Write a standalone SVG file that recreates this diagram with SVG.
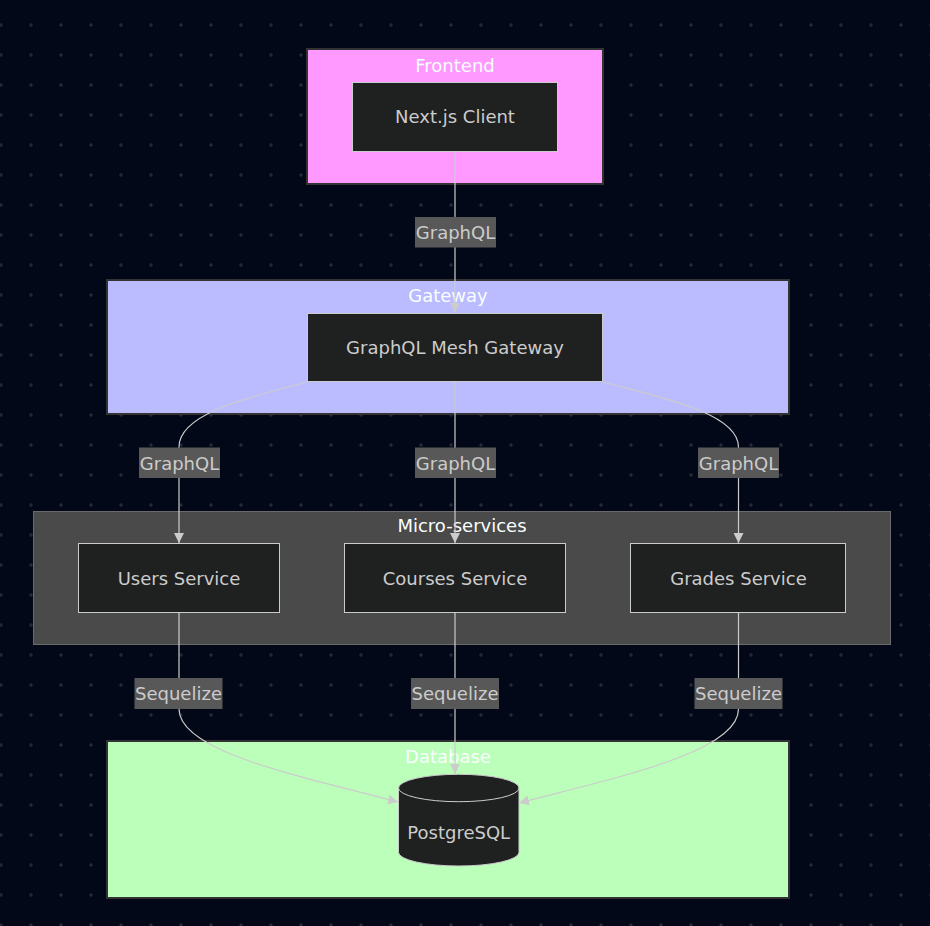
<svg xmlns="http://www.w3.org/2000/svg" width="930" height="926" viewBox="0 0 930 926">
<style>
text{font-family:"DejaVu Sans","Liberation Sans",sans-serif;font-size:18px;text-anchor:middle}
.ct{fill:#f9fffe}
.nt{fill:#cccccc}
.node{fill:#1f2020;stroke:#cccccc;stroke-width:1}
.edge{fill:none;stroke:#cccccc;stroke-width:1.2}
.lbl{fill:#585858}
</style>
<defs>
<pattern id="dots" x="-14" y="10" width="30" height="30" patternUnits="userSpaceOnUse">
<circle cx="15" cy="15" r="1.7" fill="#262a38"/>
</pattern>
<marker id="arr" viewBox="0 0 10 10" refX="10" refY="5" markerWidth="10" markerHeight="10" markerUnits="userSpaceOnUse" orient="auto">
<path d="M0,0 L10,5 L0,10 z" fill="#cccccc"/>
</marker>
</defs>
<rect width="930" height="926" fill="#020817"/>
<rect width="930" height="926" fill="url(#dots)"/>

<g id="cluster-frontend">
<rect x="307" y="49" width="296" height="135" fill="#ff99ff" stroke="#333333" stroke-width="2"/>
<text class="ct" x="455" y="72">Frontend</text>
</g>
<g id="cluster-gateway">
<rect x="107" y="280" width="682" height="134" fill="#bbbbff" stroke="#333333" stroke-width="2"/>
<text class="ct" x="448" y="302">Gateway</text>
</g>
<g id="cluster-microservices">
<rect x="33.5" y="511.5" width="857" height="133" fill="#4a4a4a" stroke="#6a6a6a" stroke-width="1"/>
<text class="ct" x="462" y="532">Micro-services</text>
</g>
<g id="cluster-database">
<rect x="107" y="741" width="682" height="157" fill="#bbffbb" stroke="#333333" stroke-width="2"/>
<text class="ct" x="448" y="763">Database</text>
</g>

<g id="connectors">
<path class="edge" d="M455,151 L455,313" marker-end="url(#arr)"/>
<path class="edge" d="M307,382 C255,396 179,412 179,447 L179,543" marker-end="url(#arr)"/>
<path class="edge" d="M455,382 L455,543" marker-end="url(#arr)"/>
<path class="edge" d="M603,382 C655,396 738.5,412 738.5,447 L738.5,543" marker-end="url(#arr)"/>
<path class="edge" d="M179,613 L179,709 C179,752 300,776 398,802" marker-end="url(#arr)"/>
<path class="edge" d="M455,613 L455,774" marker-end="url(#arr)"/>
<path class="edge" d="M738.5,613 L738.5,709 C738.5,752 618,777 519,803" marker-end="url(#arr)"/>
<g id="edge-labels">
<rect class="lbl" x="415" y="217" width="81" height="30.5"/>
<text class="nt" x="455.5" y="239">GraphQL</text>
<rect class="lbl" x="139" y="447.5" width="81" height="30.5"/>
<text class="nt" x="179.5" y="470">GraphQL</text>
<rect class="lbl" x="415" y="447.5" width="81" height="30.5"/>
<text class="nt" x="455.5" y="470">GraphQL</text>
<rect class="lbl" x="698" y="447.5" width="81" height="30.5"/>
<text class="nt" x="738.5" y="470">GraphQL</text>
<rect class="lbl" x="134.5" y="678" width="88" height="31"/>
<text class="nt" x="178.5" y="700">Sequelize</text>
<rect class="lbl" x="411" y="678" width="88" height="31"/>
<text class="nt" x="455" y="700">Sequelize</text>
<rect class="lbl" x="694.5" y="678" width="88" height="31"/>
<text class="nt" x="738.5" y="700">Sequelize</text>
</g>
</g>

<g id="node-nextjs">
<rect class="node" x="352.5" y="82.5" width="205" height="69"/>
<text class="nt" x="455" y="123">Next.js Client</text>
</g>
<g id="node-gateway">
<rect class="node" x="307.5" y="313.5" width="295" height="68"/>
<text class="nt" x="455" y="354">GraphQL Mesh Gateway</text>
</g>
<g id="node-users">
<rect class="node" x="78.5" y="543.5" width="201" height="69"/>
<text class="nt" x="179" y="584.5">Users Service</text>
</g>
<g id="node-courses">
<rect class="node" x="344.5" y="543.5" width="221" height="69"/>
<text class="nt" x="455" y="584.5">Courses Service</text>
</g>
<g id="node-grades">
<rect class="node" x="630.5" y="543.5" width="215" height="69"/>
<text class="nt" x="738.5" y="584.5">Grades Service</text>
</g>
<g id="node-postgres">
<path class="node" d="M398.5,788 a60.25,13.7 0 0,0 120.5,0 a60.25,13.7 0 0,0 -120.5,0 l0,64.3 a60.25,13.7 0 0,0 120.5,0 l0,-64.3"/>
<text class="nt" x="458.75" y="839">PostgreSQL</text>
</g>
</svg>
